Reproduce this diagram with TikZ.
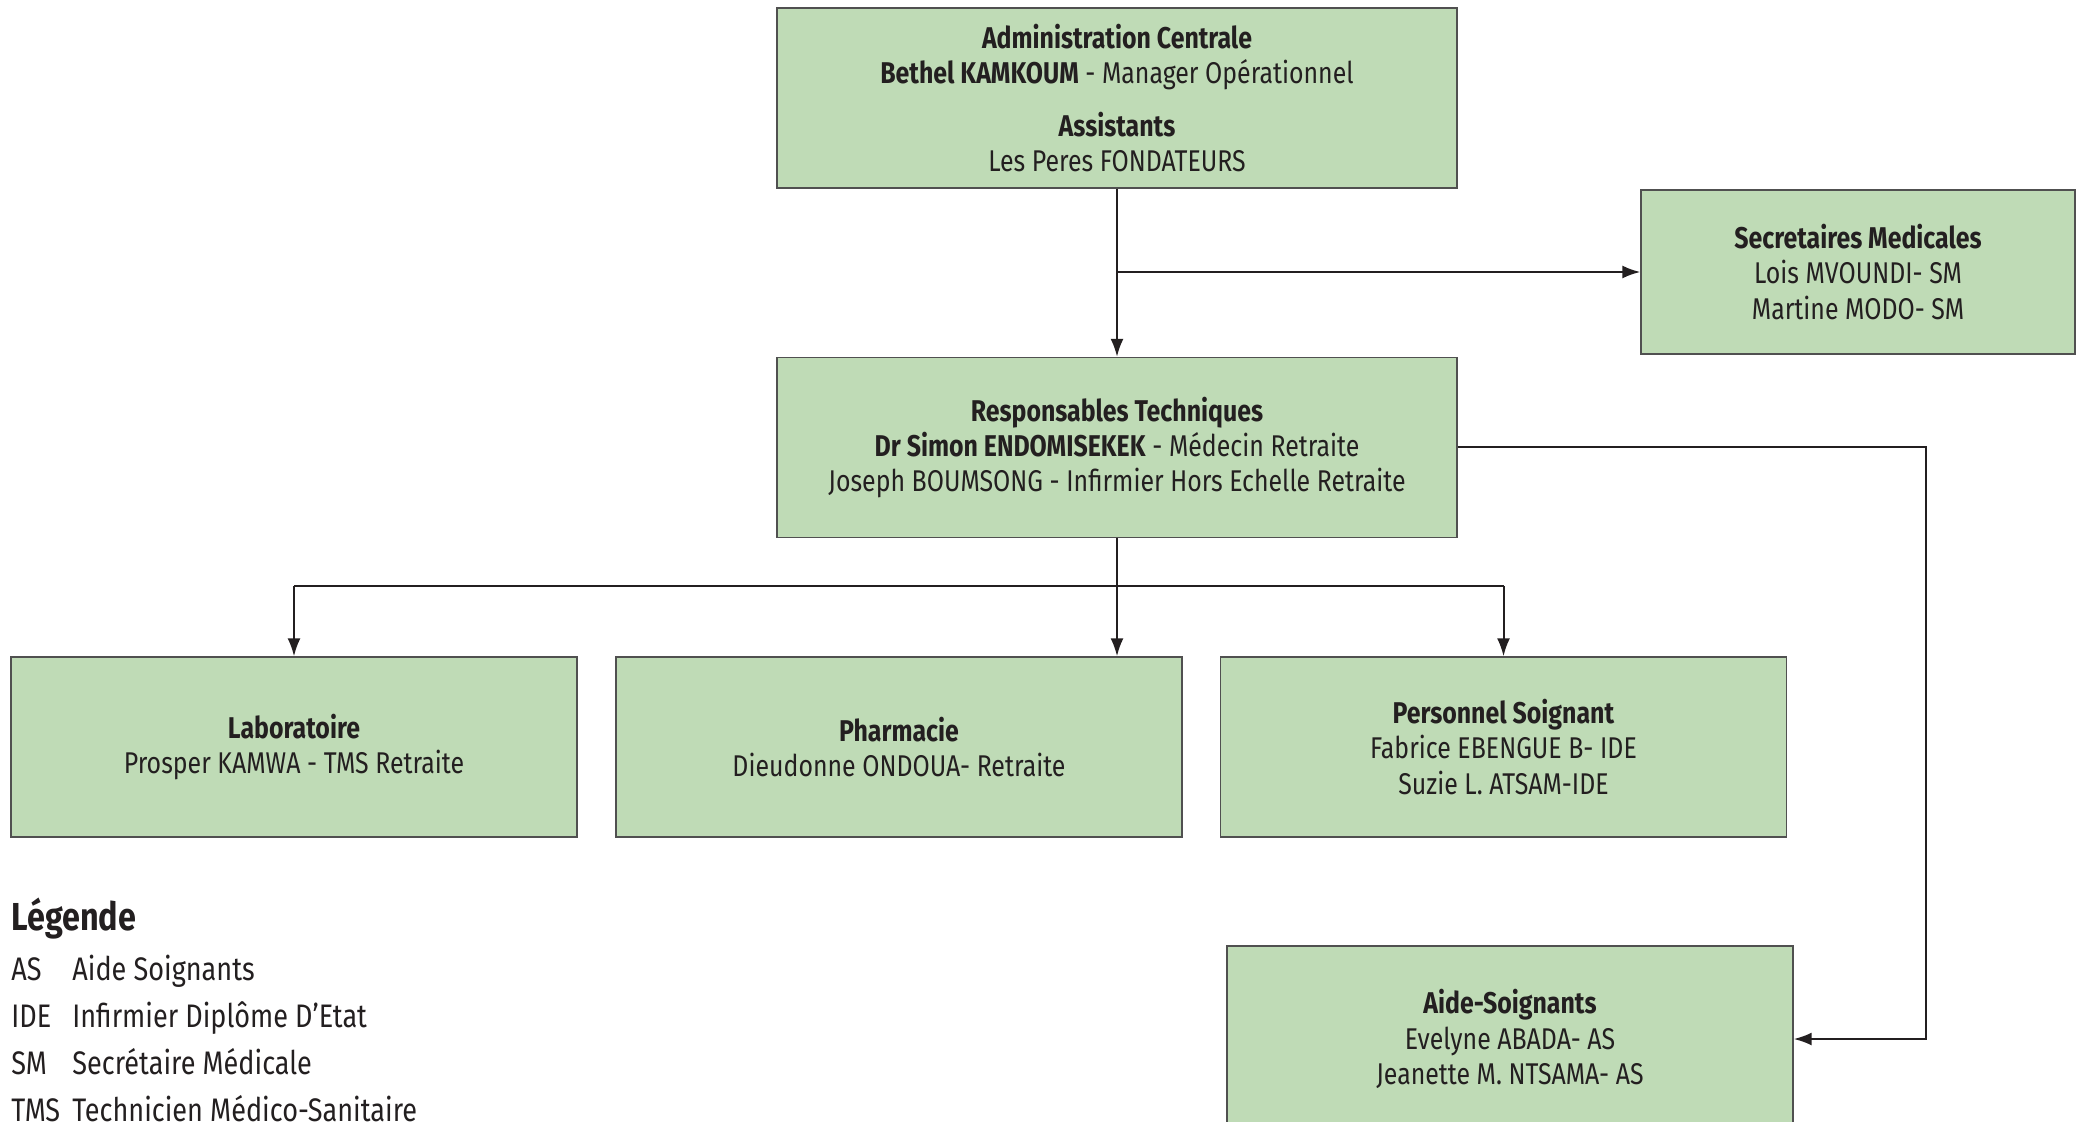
\documentclass[tikz,border=0pt]{standalone}
\usepackage{fontspec}
\setmainfont{Fira Sans}[FakeStretch=0.83]
\usetikzlibrary{arrows.meta}

\definecolor{boxgreen}{RGB}{191,219,182}
\definecolor{boxline}{RGB}{80,80,80}
\definecolor{ink}{RGB}{35,31,32}

\tikzset{
  unit/.style={draw=boxline, line width=0.7pt, fill=boxgreen, text=ink,
    align=center, inner sep=0pt,
    font=\fontsize{15}{17.6}\selectfont},
  bigunit/.style={unit, minimum width=340pt, minimum height=90pt},
  smallunit/.style={unit, minimum width=283pt, minimum height=90pt},
  link/.style={draw=ink, line width=1pt, -{Latex[length=9pt,width=6.5pt]}},
  bus/.style={draw=ink, line width=1pt},
  legtext/.style={anchor=base west, inner sep=0pt, text=ink,
    font=\fontsize{16.3}{19}\selectfont}
}

\begin{document}
\begin{tikzpicture}[x=0.5pt,y=-0.5pt]
  \useasboundingbox (0,0) rectangle (2080,1122);

  \node[bigunit] (admin) at (1117,98)
    {\textbf{Administration Centrale}\\
     \textbf{Bethel KAMKOUM} - Manager Opérationnel\\[9pt]
     \textbf{Assistants}\\
     Les Peres FONDATEURS};
  \node[unit, minimum width=217pt, minimum height=82pt] (secr) at (1858,272)
    {\textbf{Secretaires Medicales}\\
     Lois MVOUNDI- SM\\
     Martine MODO- SM};
  \node[bigunit] (resp) at (1117,447.5)
    {\textbf{Responsables Techniques}\\
     \textbf{Dr Simon ENDOMISEKEK} - Médecin Retraite\\
     Joseph BOUMSONG - Infirmier Hors Echelle Retraite};

  \node[smallunit] (labo) at (294,747)
    {\textbf{Laboratoire}\\
     Prosper KAMWA - TMS Retraite};
  \node[smallunit] (pharma) at (899,747)
    {\textbf{Pharmacie}\\
     Dieudonne ONDOUA- Retraite};
  \node[smallunit] (perso) at (1503.5,747)
    {\textbf{Personnel Soignant}\\
     Fabrice EBENGUE B- IDE\\
     Suzie L. ATSAM-IDE};
  \node[unit, minimum width=283pt, minimum height=93pt] (aide) at (1510,1039)
    {\textbf{Aide-Soignants}\\
     Evelyne ABADA- AS\\
     Jeanette M. NTSAMA- AS};

  % liens
  \coordinate (rail) at (1926,0);
  \coordinate (split) at (0,586);
  \draw[link] (admin.south) -- (resp.north);
  \draw[link] (admin.south |- secr.west) -- (secr.west);
  \draw[link] (resp.east) -- (resp.east -| rail) -- (aide.east -| rail)
    -- (aide.east);
  \draw[link] (resp.south) -- (resp.south |- pharma.north);
  \draw[bus] (labo.north |- split) -- (perso.north |- split);
  \draw[link] (labo.north |- split) -- (labo.north);
  \draw[link] (perso.north |- split) -- (perso.north);

  % legende
  \node[legtext, font=\bfseries\fontsize{19.5}{24}\selectfont] (legend)
    at (11,930) {Légende};
  \foreach \abbr/\full [count=\i] in {AS/Aide Soignants,
      IDE/Infirmier Diplôme D’Etat, SM/Secrétaire Médicale,
      TMS/Technicien Médico-Sanitaire} {
    \node[legtext] (abbr-\i) at (11,{980+47.3*(\i-1)}) {\abbr};
    \node[legtext] (desc-\i) at (72,{980+47.3*(\i-1)}) {\full};
  }
\end{tikzpicture}
\end{document}
